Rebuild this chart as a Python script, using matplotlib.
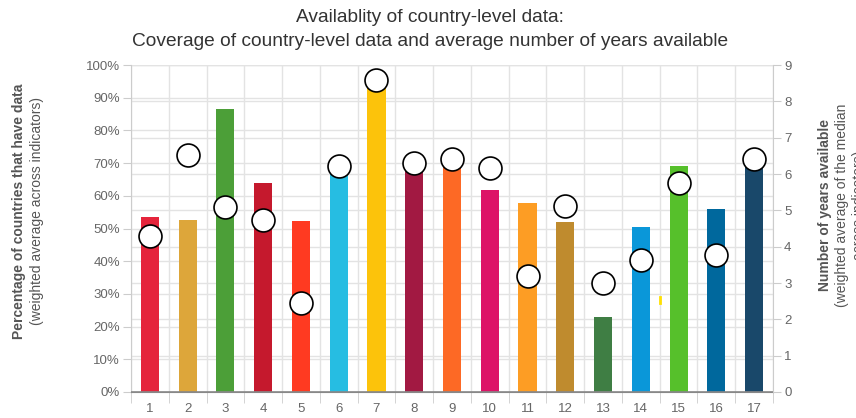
import matplotlib
matplotlib.use("Agg")
import matplotlib.pyplot as plt
import numpy as np

plt.rcParams['font.family'] = ['Liberation Sans', 'DejaVu Sans']

goals = [str(i) for i in range(1, 18)]
coverage = [53.4, 52.5, 86.5, 63.8, 52.4, 69.0, 95.0, 67.5, 70.0,
            61.9, 57.8, 51.9, 22.9, 50.5, 69.1, 56.0, 70.0]
years = [4.28, 6.51, 5.08, 4.74, 2.46, 6.22, 8.60, 6.30, 6.42,
         6.16, 3.18, 5.11, 3.00, 3.63, 5.75, 3.78, 6.41]
colors = ['#E5243B', '#DDA63A', '#4C9F38', '#C5192D', '#FF3A21', '#26BDE2',
          '#FCC30B', '#A21942', '#FD6925', '#DD1367', '#FD9D24', '#BF8B2E',
          '#3F7E44', '#0A97D9', '#56C02B', '#00689D', '#19486A']

grid_c = '#e3e3e3'
tick_c = '#666666'

fig = plt.figure(figsize=(8.56, 4.18), dpi=100)
ax = fig.add_axes([131/856, 1-392/418, (773-131)/856, (392-65)/418])
x = np.arange(len(goals))

# gridlines: left axis (every 10%) and right axis (every 1 year)
for v in range(10, 101, 10):
    ax.axhline(v, color=grid_c, lw=1, zorder=0)
for v in range(1, 10):
    ax.axhline(v / 9 * 100, color=grid_c, lw=1, zorder=0)
for b in np.arange(-0.5, 17, 1):
    ax.axvline(b, color=grid_c, lw=1, zorder=0)

ax.bar(x, coverage, width=0.48, color=colors, zorder=2)
ax.plot([13.5, 13.5], [27.2, 29.2], color='#FFE000', lw=2, zorder=2)

ax.set_xlim(-0.5, 16.5)
ax.set_ylim(0, 100)
ax.set_yticks(range(0, 101, 10))
ax.set_yticklabels([f'{v}%' for v in range(0, 101, 10)])
ax.set_xticks(x)
ax.set_xticklabels(goals)
ax.set_xticks(np.arange(-0.5, 17, 1), minor=True)
ax.tick_params(axis='x', which='major', length=0, pad=8, labelsize=9.5, labelcolor=tick_c)
ax.tick_params(axis='x', which='minor', length=8, color='#cccccc')
ax.tick_params(axis='y', length=6, color='#cccccc', labelsize=9.5, labelcolor=tick_c, pad=2)
for s in ['top', 'right']:
    ax.spines[s].set_visible(False)
ax.spines['left'].set_color('#cccccc')
ax.spines['bottom'].set_color('#888888')
ax.axhline(0, color='#888888', lw=1.2, zorder=3)

ax2 = ax.twinx()
ax2.plot(x, years, 'o', ms=16.5, mfc='white', mec='black', mew=1.2, zorder=5)
ax2.set_ylim(0, 9)
ax2.set_yticks(range(0, 10))
ax2.tick_params(axis='y', length=6, color='#cccccc', labelsize=9.5, labelcolor=tick_c, pad=2)
for s in ['top', 'left', 'bottom']:
    ax2.spines[s].set_visible(False)
ax2.spines['right'].set_color('#cccccc')

fig.text(0.502, 1-18/418, 'Availablity of country-level data:', ha='center', va='center',
         fontsize=13.8, color='#333333')
fig.text(0.502, 1-42/418, 'Coverage of country-level data and average number of years available',
         ha='center', va='center', fontsize=13.8, color='#333333')

fig.text(19/856, 1-211/418, 'Percentage of countries that have data', rotation=90,
         ha='center', va='center', fontsize=10, fontweight='bold', color='#555555')
fig.text(37/856, 1-211/418, '(weighted average across indicators)', rotation=90,
         ha='center', va='center', fontsize=10, color='#555555')
fig.text(825/856, 1-205/418, 'Number of years available', rotation=90,
         ha='center', va='center', fontsize=10, fontweight='bold', color='#555555')
fig.text(842/856, 1-205/418, '(weighted average of the median', rotation=90,
         ha='center', va='center', fontsize=10, color='#555555')
fig.text(859/856, 1-205/418, 'across indicators)', rotation=90,
         ha='center', va='center', fontsize=10, color='#555555')

fig.savefig('out.png', dpi=100)
